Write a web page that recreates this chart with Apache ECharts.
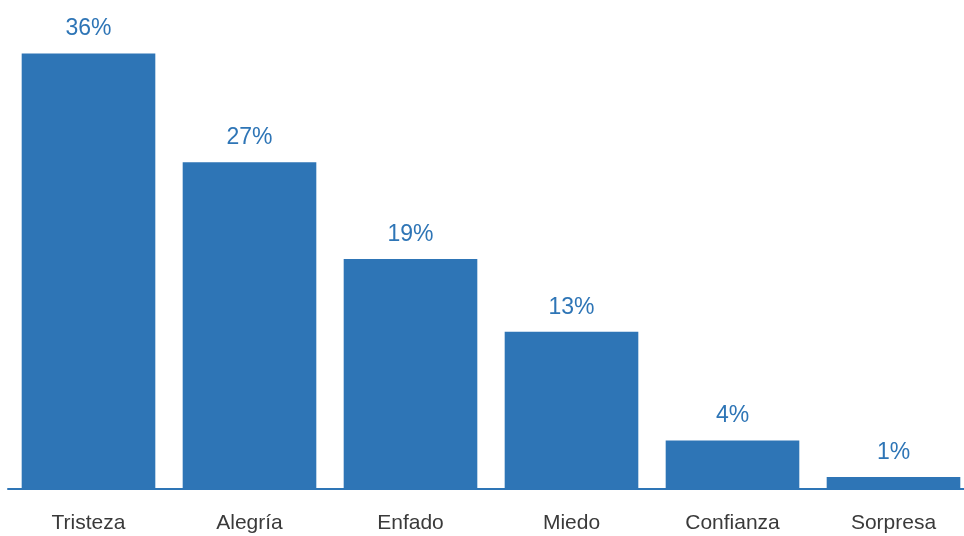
<!DOCTYPE html>
<html>
<head>
<meta charset="utf-8">
<script src="https://cdn.jsdelivr.net/npm/echarts@6/dist/echarts.min.js"></script>
<style>
  html, body { margin: 0; padding: 0; background: #fff; }
  #chart { width: 964px; height: 536px; }
</style>
</head>
<body>
<div id="chart"></div>
<script>
// Emotion categories and their share (%)
const categories = ['Tristeza', 'Alegría', 'Enfado', 'Miedo', 'Confianza', 'Sorpresa'];
const shares = [36, 27, 19, 13, 4, 1];

const barColor = '#2E75B6';
const fontFamily = '"Liberation Sans Narrow", "Arial Narrow", "Liberation Sans", Arial, sans-serif';

const chart = echarts.init(document.getElementById('chart'));
chart.setOption({
  animation: false,
  grid: {
    left: 8, width: 966, top: 5, bottom: 47,
    containLabel: false,
    outerBoundsMode: 'none'
  },
  xAxis: {
    type: 'category',
    data: categories,
    axisLine: { show: true, lineStyle: { color: barColor, width: 2 } },
    axisTick: { show: false },
    axisLabel: {
      color: '#3a3a3a',
      fontSize: 21,
      fontFamily: fontFamily,
      margin: 24
    }
  },
  yAxis: {
    type: 'value',
    min: 0,
    max: 40,
    show: false,
    splitLine: { show: false }
  },
  series: [{
    type: 'bar',
    data: shares,
    barCategoryGap: '17%',
    itemStyle: { color: barColor },
    label: {
      show: true,
      position: 'top',
      distance: 13,
      formatter: '{c}%',
      color: barColor,
      fontSize: 23,
      fontFamily: fontFamily
    }
  }]
});
</script>
</body>
</html>
